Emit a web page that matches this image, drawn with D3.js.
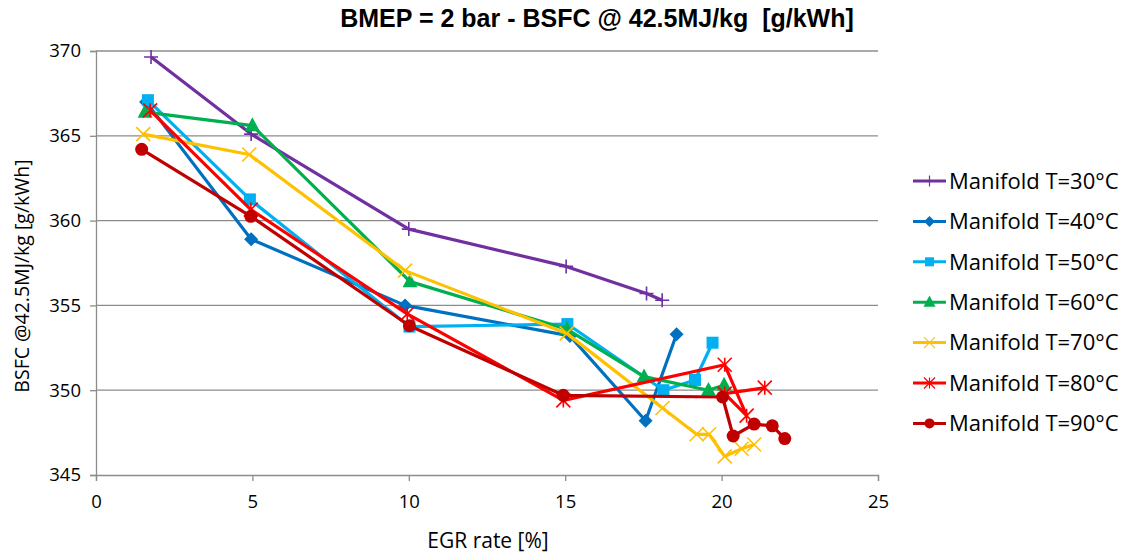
<!DOCTYPE html>
<html>
<head>
<meta charset="utf-8">
<script src="https://cdn.jsdelivr.net/npm/d3@7"></script>
<style>
    body { margin: 0; background: #fff; overflow: hidden; }
    #chart { width: 1134px; height: 556px; }
    text { fill: #000; }
</style>
</head>
<body>
<div id="chart"></div>
<script>
// ==========================
// Data
// ==========================
const seriesNames = [
    "Manifold T=30°C", "Manifold T=40°C", "Manifold T=50°C", "Manifold T=60°C",
    "Manifold T=70°C", "Manifold T=80°C", "Manifold T=90°C"
];

const egr30 = [1.76, 4.96, 10.0, 15.03, 17.6, 18.1];
const bsfc30 = [369.65, 365.1, 359.5, 357.3, 355.7, 355.3];

const egr40 = [1.6, 4.96, 9.88, 15.15, 17.57, 18.56];
const bsfc40 = [367.0, 358.9, 355.0, 353.2, 348.2, 353.3];

const egr50 = [1.66, 4.92, 10.02, 15.07, 18.14, 19.15, 19.71];
const bsfc50 = [367.1, 361.25, 353.75, 353.9, 350.0, 350.6, 352.8];

const egr60 = [1.57, 5.0, 10.04, 15.05, 17.52, 19.58, 20.08];
const bsfc60 = [366.4, 365.6, 356.4, 353.6, 350.8, 350.0, 350.3];

const egr70 = [1.51, 4.9, 9.88, 15.05, 18.11, 19.2, 19.6, 20.1, 20.64, 21.04];
const bsfc70 = [365.1, 363.9, 357.05, 353.35, 348.95, 347.4, 347.4, 346.1, 346.55, 346.8];

const egr80 = [1.73, 4.95, 9.95, 14.94, 20.1, 20.8, 20.1, 21.38];
const bsfc80 = [366.5, 360.65, 354.5, 349.4, 351.5, 348.5, 349.8, 350.15];

const egr90 = [1.46, 4.95, 10.02, 14.94, 20.03, 20.37, 21.04, 21.62, 22.02];
const bsfc90 = [364.2, 360.25, 353.8, 349.7, 349.6, 347.3, 348.0, 347.9, 347.15];

const xTicks = [0, 5, 10, 15, 20, 25];
const yTicks = [345, 350, 355, 360, 365, 370];

const colors = ["#7030A0", "#0070C0", "#00B0F0", "#00B050", "#FFC000", "#FF0000", "#C00000"];
const markers = ["plus", "diamond", "square", "triangle", "times", "asterisk", "circle"];

const allX = [egr30, egr40, egr50, egr60, egr70, egr80, egr90];
const allY = [bsfc30, bsfc40, bsfc50, bsfc60, bsfc70, bsfc80, bsfc90];

const series = seriesNames.map((name, i) => ({
    name: name,
    color: colors[i],
    marker: markers[i],
    values: allX[i].map((x, j) => ({ x: x, y: allY[i][j] }))
}));

// ==========================
// SVG Setup
// ==========================
const width = 1134;
const height = 556;
const margin = { top: 51, right: 256, bottom: 81, left: 96 };
const innerWidth = width - margin.left - margin.right;
const innerHeight = height - margin.top - margin.bottom;

const svg = d3.select("#chart").append("svg")
    .attr("width", width)
    .attr("height", height);

const chart = svg.append("g")
    .attr("transform", `translate(${margin.left},${margin.top})`);

const sans = "'Open Sans', 'Noto Sans', sans-serif";
const titleFont = "'Liberation Sans', Arial, sans-serif";

// ==========================
// Scales
// ==========================
const xScale = d3.scaleLinear().domain([0, 25]).range([0, innerWidth]);
const yScale = d3.scaleLinear().domain([345, 370]).range([innerHeight, 0]);

// ==========================
// Grid + Axes
// ==========================
chart.append("g")
    .selectAll("line")
    .data(yTicks.filter(d => d !== 345))
    .enter()
    .append("line")
    .attr("x1", 0)
    .attr("x2", innerWidth)
    .attr("y1", d => yScale(d))
    .attr("y2", d => yScale(d))
    .attr("stroke", "#8c8c8c")
    .attr("stroke-width", 1.3);

const xAxis = chart.append("g")
    .attr("transform", `translate(0,${innerHeight})`)
    .call(d3.axisBottom(xScale).tickValues(xTicks).tickSize(6).tickPadding(14));

const yAxis = chart.append("g")
    .call(d3.axisLeft(yScale).tickValues(yTicks).tickSize(6).tickPadding(9));

[xAxis, yAxis].forEach(ax => {
    ax.select(".domain").attr("stroke", "#8c8c8c").attr("stroke-width", 1.3);
    ax.selectAll(".tick line").attr("stroke", "#8c8c8c").attr("stroke-width", 1.3);
    ax.selectAll(".tick text")
        .style("font-family", sans)
        .style("font-size", "18.5px")
        .style("fill", "#000");
});

// ==========================
// Markers
// ==========================
function markerPath(type, r) {
    switch (type) {
        case "plus":
            return `M${-r},0H${r}M0,${-r}V${r}`;
        case "times":
            return `M${-r},${-r}L${r},${r}M${-r},${r}L${r},${-r}`;
        case "asterisk":
            return `M${-r},${-r}L${r},${r}M${-r},${r}L${r},${-r}M0,${-r}V${r}`;
        case "diamond":
            return `M0,${-r}L${r},0L0,${r}L${-r},0Z`;
        case "square":
            return `M${-r},${-r}H${r}V${r}H${-r}Z`;
        case "triangle":
            return `M0,${-r * 1.1}L${r},${r * 0.75}L${-r},${r * 0.75}Z`;
        default:
            return d3.arc()({ innerRadius: 0, outerRadius: r, startAngle: 0, endAngle: 2 * Math.PI });
    }
}

const markerSize = { plus: 7, diamond: 7, square: 6, triangle: 7.5, times: 7, asterisk: 7, circle: 6.5 };
const isStroke = m => m === "plus" || m === "times" || m === "asterisk";

// ==========================
// Lines
// ==========================
const line = d3.line()
    .x(d => xScale(d.x))
    .y(d => yScale(d.y));

series.forEach(s => {
    const g = chart.append("g");

    g.append("path")
        .datum(s.values)
        .attr("d", line)
        .attr("fill", "none")
        .attr("stroke", s.color)
        .attr("stroke-width", 3.2)
        .attr("stroke-linejoin", "round");

    g.selectAll(".marker")
        .data(s.values)
        .enter()
        .append("path")
        .attr("class", "marker")
        .attr("transform", d => `translate(${xScale(d.x)},${yScale(d.y)})`)
        .attr("d", markerPath(s.marker, markerSize[s.marker]))
        .attr("fill", isStroke(s.marker) ? "none" : s.color)
        .attr("stroke", s.color)
        .attr("stroke-width", isStroke(s.marker) ? 1.6 : 0);
});

// ==========================
// Legend
// ==========================
const legend = svg.append("g")
    .attr("transform", "translate(913,181)");

const rows = legend.selectAll(".row")
    .data(series)
    .enter()
    .append("g")
    .attr("transform", (d, i) => `translate(0,${i * 40.4})`);

rows.append("line")
    .attr("x1", 0)
    .attr("x2", 33)
    .attr("stroke", d => d.color)
    .attr("stroke-width", 3);

rows.append("path")
    .attr("transform", "translate(16.5,0)")
    .attr("d", d => markerPath(d.marker, markerSize[d.marker] - 1.5))
    .attr("fill", d => isStroke(d.marker) ? "none" : d.color)
    .attr("stroke", d => d.color)
    .attr("stroke-width", d => isStroke(d.marker) ? 1.2 : 0);

rows.append("text")
    .attr("x", 36)
    .attr("dy", "0.35em")
    .style("font-family", sans)
    .style("font-size", "22px")
    .text(d => d.name);

// ==========================
// Titles
// ==========================
svg.append("text")
    .attr("x", 597)
    .attr("y", 27)
    .attr("text-anchor", "middle")
    .attr("xml:space", "preserve")
    .style("white-space", "pre")
    .style("font-family", titleFont)
    .style("font-size", "25px")
    .style("font-weight", "bold")
    .text("BMEP = 2 bar - BSFC @ 42.5MJ/kg  [g/kWh]");

svg.append("text")
    .attr("x", 488)
    .attr("y", 548)
    .attr("text-anchor", "middle")
    .style("font-family", sans)
    .style("font-size", "21px")
    .text("EGR rate [%]");

svg.append("text")
    .attr("transform", "translate(29,276) rotate(-90)")
    .attr("text-anchor", "middle")
    .style("font-family", sans)
    .style("font-size", "19.5px")
    .text("BSFC @42.5MJ/kg [g/kWh]");
</script>
</body>
</html>
